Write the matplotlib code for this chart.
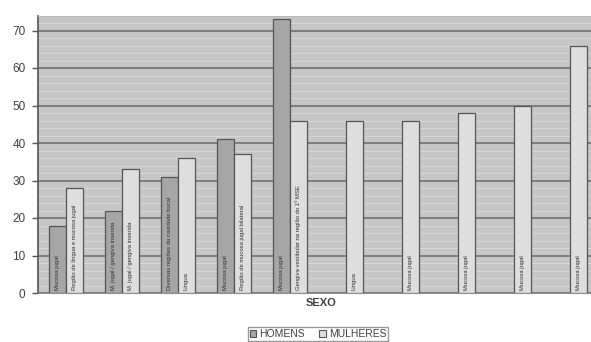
import matplotlib.pyplot as plt
from matplotlib.ticker import MultipleLocator

# values (None = no bar)
homens = [18, 22, 31, 41, 73, None, None, None, None, None]
mulheres = [28, 33, 36, 37, 46, 46, 46, 48, 50, 66]

rotulos_homens = ["Mucosa jugal", "M. jugal / gengiva inserida",
                  "Diversas regiões da cavidade bucal", "Mucosa jugal",
                  "Mucosa jugal", None, None, None, None, None]
rotulos_mulheres = ["Região de língua e mucosa jugal", "M. jugal / gengiva inserida",
                    "Língua", "Região de mucosa jugal bilateral",
                    "Gengiva vestibular na região do 1º MSE", "Língua",
                    "Mucosa jugal", "Mucosa jugal", "Mucosa jugal", "Mucosa jugal"]

y_ticks = [0, 10, 20, 30, 40, 50, 60, 70]

plt.rcParams['font.family'] = ['Liberation Sans', 'DejaVu Sans']

fig = plt.figure(figsize=(5.91, 3.42), dpi=100)
# plot area runs past the right edge of the picture, as in the source
ax = fig.add_axes([38 / 591, 49 / 342, 560 / 591, 277.5 / 342])
ax.set_facecolor('#c6c6c6')

w = 0.295
x = range(len(mulheres))
for i in x:
    if homens[i] is not None:
        ax.bar(i - w / 2, homens[i], w, color='#a6a6a6', edgecolor='#555555',
               linewidth=0.9, zorder=3)
        ax.text(i - w / 2, 0.8, rotulos_homens[i], rotation=90, ha='center',
                va='bottom', fontsize=4.2, color='#303030', zorder=4)
    ax.bar(i + w / 2, mulheres[i], w, color='#dedede', edgecolor='#555555',
           linewidth=0.9, zorder=3)
    ax.text(i + w / 2, 0.8, rotulos_mulheres[i], rotation=90, ha='center',
            va='bottom', fontsize=4.2, color='#303030', zorder=4)

ax.set_xlim(-0.5, 9.5)
ax.set_ylim(0, 74)
ax.set_yticks(y_ticks)
ax.yaxis.set_minor_locator(MultipleLocator(2))
ax.grid(which='minor', axis='y', color='#d8d8d8', linewidth=0.7, zorder=1)
ax.grid(which='major', axis='y', color='#6a6a6a', linewidth=1.1, zorder=2)
ax.set_xticks([])
ax.tick_params(axis='y', which='major', length=4, width=1, color='#555555',
               labelcolor='#404040', labelsize=8.5, pad=5)
ax.tick_params(axis='y', which='minor', length=0)

for s in ['top', 'right']:
    ax.spines[s].set_color('#b8b8b8')
ax.spines['left'].set_color('#555555')
ax.spines['left'].set_linewidth(1.2)
ax.spines['bottom'].set_color('#909090')

fig.text(321 / 591, 1 - 303 / 342, "SEXO", ha='center', va='center',
         fontsize=8, fontweight='bold', color='#404040')

h1 = plt.Rectangle((0, 0), 1, 1, facecolor='#a6a6a6', edgecolor='#555555', linewidth=0.8)
h2 = plt.Rectangle((0, 0), 1, 1, facecolor='#dedede', edgecolor='#555555', linewidth=0.8)
leg = fig.legend([h1, h2], ["HOMENS", "MULHERES"], loc='upper center',
                 bbox_to_anchor=(318 / 591, 1 - 327 / 342), ncol=2, fontsize=7.5,
                 frameon=True, fancybox=False, edgecolor='#808080',
                 handlelength=0.6, handleheight=0.6, handletextpad=0.3,
                 columnspacing=1.4, borderpad=0.2, borderaxespad=0)
leg.get_frame().set_linewidth(1)
for t in leg.get_texts():
    t.set_color('#404040')

fig.savefig('out.png', dpi=100)
